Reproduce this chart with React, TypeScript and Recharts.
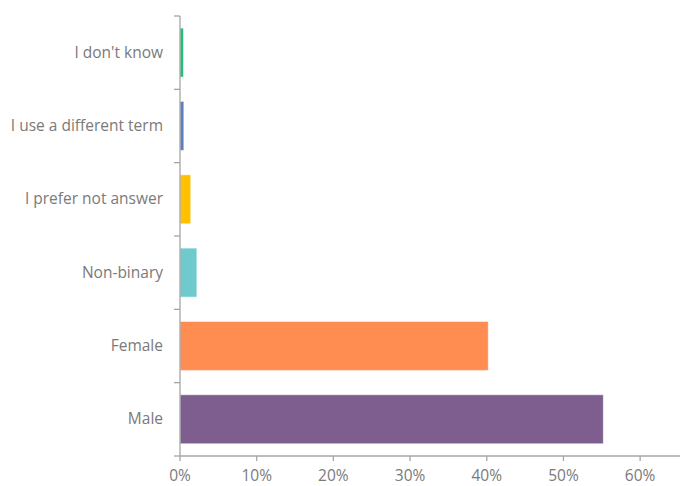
import React from 'react';
import { BarChart, Bar, XAxis, YAxis, Cell } from 'recharts';

const categories = ["I don't know", 'I use a different term', 'I prefer not answer', 'Non-binary', 'Female', 'Male'];
const values = [0.0045, 0.005, 0.014, 0.022, 0.402, 0.552];
const colors = ['#1DBF73', '#5B7FBF', '#FFC000', '#6ECACD', '#FF8C50', '#7D5E8E'];
const xTicks = [0, 0.1, 0.2, 0.3, 0.4, 0.5, 0.6];

const data = categories.map((c, i) => ({ name: c, value: values[i] }));

const TEXT = '#7a7a7a';
const AXIS = '#A6A6A6';
const FONT = '"Open Sans", sans-serif';
const FS = 15.5;

const YTick = (props: any) => {
  const { x, y, payload, index } = props;
  const off = payload.offset || 0;
  return (
    <g>
      {index === 0 && <line x1={x + 2} x2={x + 8} y1={y - off} y2={y - off} stroke={AXIS} strokeWidth={1.3} />}
      <line x1={x + 2} x2={x + 8} y1={y + off} y2={y + off} stroke={AXIS} strokeWidth={1.3} />
      <text x={x - 9} y={y} dy={5} textAnchor="end" fill={TEXT} fontSize={FS} fontFamily={FONT}>
        {payload.value}
      </text>
    </g>
  );
};

export default function App() {
  return (
    <div style={{ position: 'absolute', left: 0, top: 0, background: '#fff' }}>
      <BarChart
        width={680}
        height={486}
        data={data}
        layout="vertical"
        margin={{ top: 16, right: 0, bottom: 0, left: 0 }}
        barCategoryGap="16.5%"
      >
        <XAxis
          type="number"
          domain={[0, 0.652]}
          ticks={xTicks}
          allowDataOverflow
          tickFormatter={(v: number) => `${Math.round(v * 100)}%`}
          stroke={AXIS}
          strokeWidth={1.3}
          tickSize={5}
          tickMargin={9}
          tick={{ fill: TEXT, fontSize: FS, fontFamily: FONT }}
          height={30}
        />
        <YAxis
          type="category"
          dataKey="name"
          width={180}
          stroke={AXIS}
          strokeWidth={1.3}
          tickLine={false}
          tick={<YTick />}
          interval={0}
        />
        <Bar dataKey="value" isAnimationActive={false} stroke="#ffffff" strokeOpacity={0.5}>
          {data.map((d, i) => (
            <Cell key={d.name} fill={colors[i]} />
          ))}
        </Bar>
      </BarChart>
    </div>
  );
}
